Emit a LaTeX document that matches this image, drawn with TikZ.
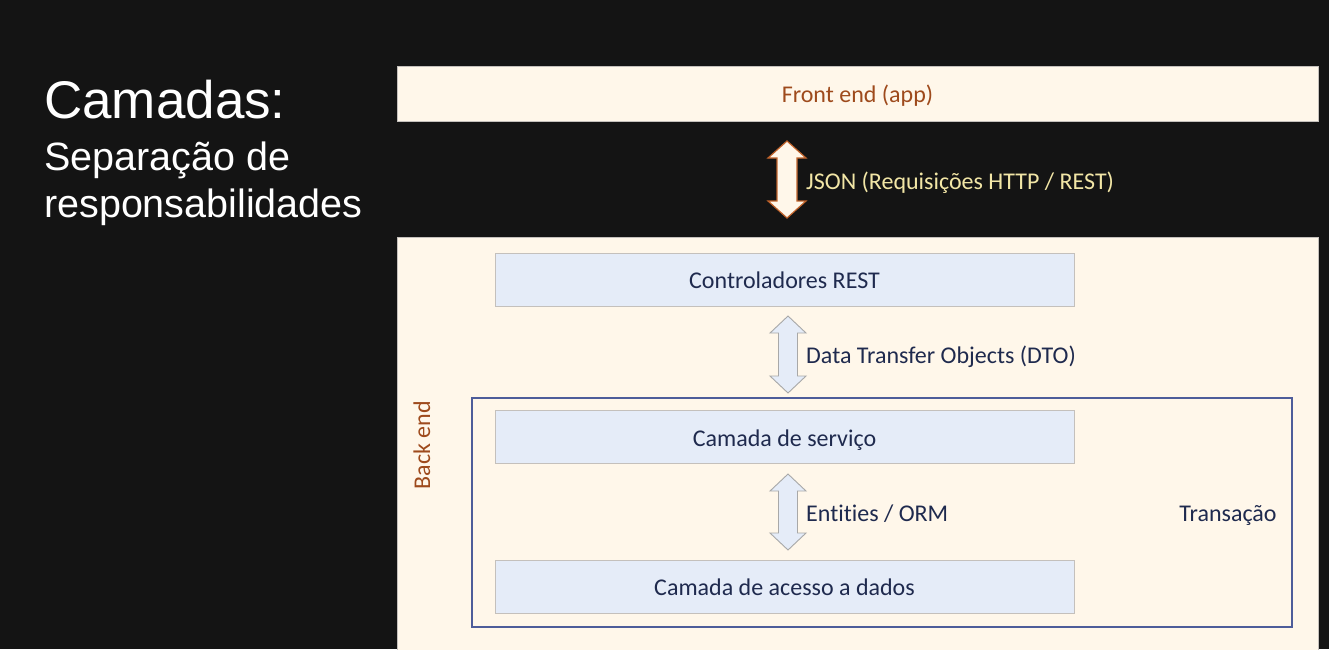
\documentclass[tikz,border=0pt]{standalone}
\usepackage{fontspec}
\setmainfont[Ligatures=NoCommon]{Carlito}
\newfontfamily\titlefont{Liberation Sans}
\usetikzlibrary{calc}
\definecolor{bgdark}{HTML}{141414}
\definecolor{cream}{HTML}{FFF7EA}
\definecolor{lblue}{HTML}{E5ECF8}
\definecolor{boxgray}{HTML}{C4C0BC}
\definecolor{trblue}{HTML}{4E5D9A}
\definecolor{navy}{HTML}{1F2A4E}
\definecolor{brownish}{HTML}{9E4A1C}
\definecolor{jsontext}{HTML}{F2E6A6}
\definecolor{jsonedge}{HTML}{C0622A}
\definecolor{arrowgray}{HTML}{A8A8A8}
\newcommand\mydblarrow[6]{%
  \draw[#6] (#1) -- ($(#1)+(#3,#5)$) -- ($(#1)+(#4,#5)$) -- ($(#2)+(#4,-#5)$) --
    ($(#2)+(#3,-#5)$) -- (#2) -- ($(#2)+(-#3,-#5)$) -- ($(#2)+(-#4,-#5)$) --
    ($(#1)+(-#4,#5)$) -- ($(#1)+(-#3,#5)$) -- cycle;}
\begin{document}
\begin{tikzpicture}[x=1pt,y=-1pt,
  txt/.style={font=\fontsize{24}{28}\selectfont, text height=18pt, text depth=0pt},
  layerbox/.style={txt, draw=boxgray, line width=1pt, fill=lblue, minimum width=579pt, minimum height=53pt, inner sep=0pt, text=navy},
  lbl/.style={txt, text=navy, anchor=west, inner sep=0pt},
  lightarrow/.style={draw=arrowgray, fill=lblue, line width=0.9pt, line join=miter},
  jsonarrow/.style={draw=jsonedge, fill=cream, line width=1.2pt, line join=miter}]
\useasboundingbox (0,0) rectangle (1329,649);
\fill[bgdark] (0,0) rectangle (1329,649);
% title
\node[anchor=base west, inner sep=0pt, text=white, font=\titlefont\fontsize{53}{60}\selectfont] (title) at (44,118) {Camadas:};
\node[anchor=base west, inner sep=0pt, text=white, font=\titlefont\fontsize{39.5}{46}\selectfont] (sub1) at (44,170) {Separação de};
\node[anchor=base west, inner sep=0pt, text=white, font=\titlefont\fontsize{39.5}{46}\selectfont] (sub2) at (44,217) {responsabilidades};
% front end
\node[txt, draw=boxgray, line width=1pt, fill=cream, minimum width=921pt, minimum height=55pt, inner sep=0pt, text=brownish] (front) at (857.5,93.5) {Front end (app)};
% back end
\draw[draw=boxgray, line width=1pt, fill=cream] (397,237) rectangle (1318,652);
\node[txt, rotate=90, text=brownish, inner sep=0pt] (backend) at (421,445) {Back end};
% transaction
\node[draw=trblue, line width=1.3pt, minimum width=820pt, minimum height=229pt, inner sep=0pt] (trans) at (882,512.5) {};
\node[txt, text=navy, inner sep=0pt] (translbl) at (1228,512) {Transação};
% layers
\node[layerbox] (ctrl) at (784.5,279.5) {Controladores REST};
\node[layerbox] (serv) at (784.5,437) {Camada de serviço};
\node[layerbox] (data) at (784.5,586.5) {Camada de acesso a dados};
% arrows
\coordinate (j1) at (787,141);
\coordinate (j2) at (787,218);
\mydblarrow{j1}{j2}{19}{10}{17}{jsonarrow}
\node[txt, text=jsontext, anchor=west, inner sep=0pt] (jsonlbl) at (806,180) {JSON (Requisições HTTP / REST)};
\coordinate (d1) at (788,316);
\coordinate (d2) at (788,393);
\mydblarrow{d1}{d2}{18}{9.5}{17}{lightarrow}
\node[lbl] (dtolbl) at (806,354) {Data Transfer Objects (DTO)};
\coordinate (e1) at (788,474);
\coordinate (e2) at (788,550);
\mydblarrow{e1}{e2}{18}{9.5}{17}{lightarrow}
\node[lbl] (entlbl) at (806,512) {Entities / ORM};
\end{tikzpicture}
\end{document}
